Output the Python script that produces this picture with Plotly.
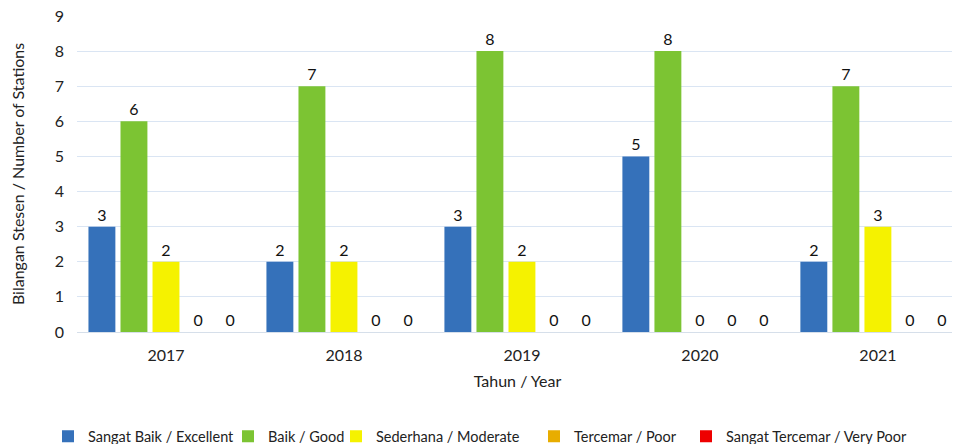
import plotly.graph_objects as go

years = ["2017", "2018", "2019", "2020", "2021"]
excellent = [3, 2, 3, 5, 2]
good = [6, 7, 8, 8, 7]
moderate = [2, 2, 2, 0, 3]
poor = [0, 0, 0, 0, 0]
very_poor = [0, 0, 0, 0, 0]

series = [
    ("Sangat Baik / Excellent", excellent, "#3571ba"),
    ("Baik / Good", good, "#7cc433"),
    ("Sederhana / Moderate", moderate, "#f5f200"),
    ("Tercemar / Poor", poor, "#e8ad00"),
    ("Sangat Tercemar / Very Poor", very_poor, "#ee0000"),
]
# left edge (px) of each legend box, one legend per series
legend_x = [40, 220, 328, 526, 678]

font = "Lato, 'Open Sans', sans-serif"
W, H = 952, 436  # page body adds an 8px margin

fig = go.Figure()
for i, (name, vals, color) in enumerate(series):
    fig.add_trace(go.Bar(
        x=years, y=vals, name=name,
        marker=dict(color=color, line=dict(width=0)),
        text=vals, textposition="outside", cliponaxis=False,
        textfont=dict(size=16, color="#111111", family=font),
        legend="legend" if i == 0 else "legend%d" % (i + 1),
    ))

lay = dict(
    width=W, height=H,
    margin=dict(l=69, r=2, t=8, b=112, autoexpand=False),
    paper_bgcolor="white", plot_bgcolor="white",
    barmode="group", bargap=0.1, bargroupgap=0.16,
    font=dict(family=font, size=16, color="#222222"),
    showlegend=True,
    xaxis=dict(
        type="category", range=[-0.5, 4.45], automargin=False,
        title=dict(text="Tahun / Year", font=dict(size=16), standoff=12),
        tickfont=dict(size=16), showgrid=False, ticks="", ticklabelstandoff=9,
        showline=True, linecolor="#d6dfea", linewidth=1,
    ),
    yaxis=dict(
        range=[0, 9], dtick=1, showgrid=True, gridcolor="#dae5f3", gridwidth=1,
        zeroline=False, ticks="", tickfont=dict(size=16), automargin=False,
        ticklabelstandoff=12, ticklabeloverflow="allow",
    ),
    # y-axis title as an annotation so it stays put next to the tick labels
    annotations=[dict(text="Bilangan Stesen / Number of Stations", textangle=-90,
                      xref="paper", yref="paper", x=-0.068, y=0.5,
                      xanchor="center", yanchor="middle", showarrow=False,
                      font=dict(size=16, family=font, color="#222222"))],
)
for i, lx in enumerate(legend_x):
    key = "legend" if i == 0 else "legend%d" % (i + 1)
    lay[key] = dict(orientation="h", xref="container", yref="paper",
                    x=lx / W, xanchor="left", y=-0.33, yanchor="middle",
                    font=dict(size=14.5, family=font), itemwidth=30,
                    bgcolor="rgba(0,0,0,0)")
fig.update_layout(**lay)

fig.write_html("out.html")
